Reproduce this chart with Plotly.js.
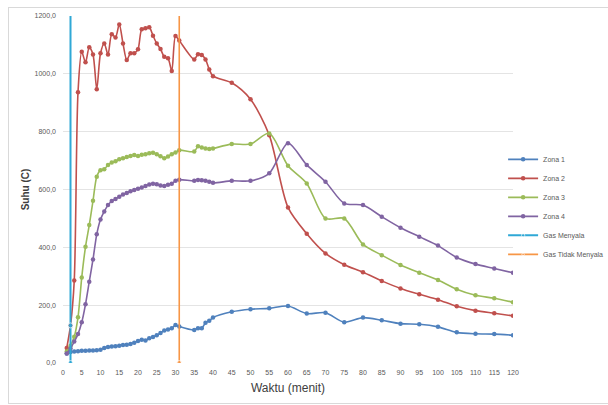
<!DOCTYPE html>
<html>
<head>
<meta charset="utf-8">
<script src="https://cdn.plot.ly/plotly-3.0.1.min.js"></script>
<style>
  html, body { margin: 0; padding: 0; background: #fff; }
  #wrap { position: relative; width: 608px; height: 405px; overflow: hidden; }
  #chart { position: absolute; left: 0; top: 0; width: 608px; height: 405px; }
  #frame { position: absolute; left: 8px; top: 7px; width: 610px; height: 395px; border: 1px solid #D9D9D9; pointer-events: none; }
</style>
</head>
<body>
<div id="wrap">
  <div id="chart"></div>
  <div id="frame"></div>
</div>
<script>
// Time (minutes)
const waktu = [1,2,3,4,5,6,7,8,9,10,11,12,13,14,15,16,17,18,19,20,21,22,23,24,25,26,27,28,29,30,31,
               35,36,37,38,39,40,45,50,55,60,65,70,75,80,85,90,95,100,105,110,115,120];

const zona1 = [33,38,40,41,42,42,43,43,44,46,52,55,57,58,60,62,63,66,70,76,80,78,86,90,96,104,112,116,120,131,126,
               114,120,120,139,146,157,177,186,189,197,171,174,141,157,148,136,134,125,106,101,100,96];

const zona2 = [52,130,285,936,1076,1040,1092,1067,947,1071,1105,1067,1137,1126,1171,1105,1048,1071,1071,1085,1154,1158,1161,1132,1105,1086,1059,1054,1010,1131,1115,
               1050,1068,1065,1050,1015,992,969,912,788,538,447,379,340,314,284,258,238,219,196,181,172,163];

const zona3 = [40,60,91,158,296,402,477,561,644,667,670,685,693,698,705,708,712,716,719,716,720,722,725,727,722,715,708,714,722,728,736,
               731,750,745,742,740,742,757,757,794,682,621,500,500,410,373,339,312,287,255,234,224,210];

const zona4 = [33,50,74,100,141,203,281,358,445,496,524,546,560,567,575,583,588,594,598,603,607,612,617,620,618,614,612,616,620,630,634,
               630,633,632,630,627,623,630,630,656,760,685,627,552,546,506,468,437,406,365,342,327,312];

const gasMenyalaX = [2,2,2];
const gasMenyalaY = [0,130,1200];
const gasTidakX = [31,31];
const gasTidakY = [0,1200];

const seriesNames = ["Zona 1","Zona 2","Zona 3","Zona 4","Gas Menyala","Gas Tidak Menyala"];
const colors = ["#4F81BD","#C0504D","#9BBB59","#8064A2","#2FA8D6","#F79646"];

function zone(y, i) {
  return {
    x: waktu, y: y, name: seriesNames[i], type: "scatter", mode: "lines+markers",
    line: {color: colors[i], width: 1.6, shape: "spline", smoothing: 0.8},
    marker: {color: colors[i], size: 4.5, symbol: "circle"}
  };
}

const traces = [
  zone(zona1, 0), zone(zona2, 1), zone(zona3, 2), zone(zona4, 3),
  {x: gasMenyalaX, y: gasMenyalaY, name: seriesNames[4], type: "scatter", mode: "lines+markers",
   line: {color: colors[4], width: 2}, marker: {color: colors[4], size: [5,5,0]}},
  {x: gasTidakX, y: gasTidakY, name: seriesNames[5], type: "scatter", mode: "lines+markers",
   line: {color: colors[5], width: 1.6}, marker: {color: colors[5], size: [5,0]}}
];

const layout = {
  width: 608, height: 405,
  paper_bgcolor: "rgba(0,0,0,0)", plot_bgcolor: "rgba(0,0,0,0)",
  separators: ",.",
  margin: {l: 63, r: 95, t: 16, b: 42, autoexpand: false},
  font: {family: "Liberation Sans, Arial, sans-serif", color: "#595959", size: 7},
  showlegend: true,
  legend: {
    x: 0.978, xanchor: "left", xref: "paper", y: 0.45, yanchor: "middle",
    font: {size: 7, color: "#595959"}, bgcolor: "rgba(0,0,0,0)", itemwidth: 30,
    tracegroupgap: 0
  },
  xaxis: {
    range: [0, 120], tickmode: "linear", tick0: 0, dtick: 5,
    showgrid: false, zeroline: false, showline: false, ticks: "",
    tickfont: {size: 7, color: "#595959"}, ticklabelstandoff: 4,
    title: {text: "Waktu (menit)", font: {size: 12, color: "#404040", family: "Liberation Sans, Arial, sans-serif"}, standoff: 8}
  },
  yaxis: {
    range: [0, 1200], tickmode: "linear", tick0: 0, dtick: 200, tickformat: ".1f",
    showgrid: true, gridcolor: "#E4E4E4", gridwidth: 1, zeroline: false, showline: false, ticks: "",
    tickfont: {size: 7, color: "#595959"}, ticklabelstandoff: 6,
    title: {text: "<b>Suhu (C)</b>", font: {size: 10, color: "#404040"}, standoff: 3}
  }
};

Plotly.newPlot("chart", traces, layout, {displayModeBar: false, staticPlot: true});
</script>
</body>
</html>
